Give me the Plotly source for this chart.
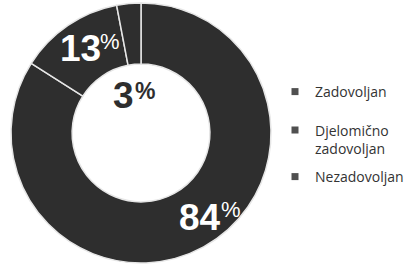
import plotly.graph_objects as go

categories = ["Zadovoljan", "Djelomično<br>zadovoljan", "Nezadovoljan"]
values = [84, 13, 3]

W, H = 419, 265
slice_color = "#2e2e2e"
legend_color = "#505050"

cx, cy, r = 141, 133, 130

fig = go.Figure(go.Pie(
    labels=categories,
    values=values,
    hole=0.53,
    sort=False,
    direction="clockwise",
    rotation=0,
    marker=dict(colors=[slice_color] * 3, line=dict(color="#e6e6e6", width=1.5)),
    textinfo="none",
    hoverinfo="label+percent",
    showlegend=False,
    domain=dict(x=[(cx - r) / W, (cx + r) / W], y=[1 - (cy + r) / H, 1 - (cy - r) / H]),
))

# legend entries: one legend per category so each row can be placed
legend_names = ["legend", "legend2", "legend3"]
legend_rows = [92, 139.5, 177]  # pixel centre of each legend block
for cat, lg in zip(categories, legend_names):
    fig.add_trace(go.Scatter(
        x=[None], y=[None], mode="markers", name=cat,
        marker=dict(symbol="square", size=7, color=legend_color),
        showlegend=True, hoverinfo="skip", legend=lg,
    ))

legend_style = dict(
    x=275 / W, xanchor="left", yanchor="middle",
    font=dict(family="Open Sans", size=14, color="#333333"),
    itemwidth=30, itemclick=False, valign="top",
    bgcolor="rgba(0,0,0,0)",
)

# value labels: number centre and "%" top-left corner (pixels)
num_pos = [(200, 217), (80, 49), (124, 96)]
pct_pos = [(219, 195), (98, 27), (133, 76)]
label_col = ["white", "white", slice_color]
pct_bold = [False, False, True]
num_font = "Liberation Sans, Arial, sans-serif"
for v, (nx, ny), (px, py), col, pb in zip(values, num_pos, pct_pos, label_col, pct_bold):
    fig.add_annotation(
        x=nx / W, y=1 - ny / H, xref="paper", yref="paper",
        text=f"<b>{v}</b>", showarrow=False,
        font=dict(family=num_font, size=37, color=col),
        xanchor="center", yanchor="middle",
    )
    fig.add_annotation(
        x=px / W, y=1 - py / H, xref="paper", yref="paper",
        text="<b>%</b>" if pb else "%", showarrow=False,
        font=dict(family=num_font, size=23 if pb else 22, color=col),
        xanchor="left", yanchor="top",
    )

fig.update_layout(
    width=W, height=H,
    margin=dict(l=0, r=0, t=0, b=0),
    paper_bgcolor="white",
    plot_bgcolor="white",
    xaxis=dict(visible=False),
    yaxis=dict(visible=False),
    showlegend=True,
    legend=dict(legend_style, y=1 - legend_rows[0] / H),
    legend2=dict(legend_style, y=1 - legend_rows[1] / H),
    legend3=dict(legend_style, y=1 - legend_rows[2] / H),
)

fig.write_html(
    "out.html",
    config={"displayModeBar": False},
    post_script="document.body.style.margin='0';",
)
